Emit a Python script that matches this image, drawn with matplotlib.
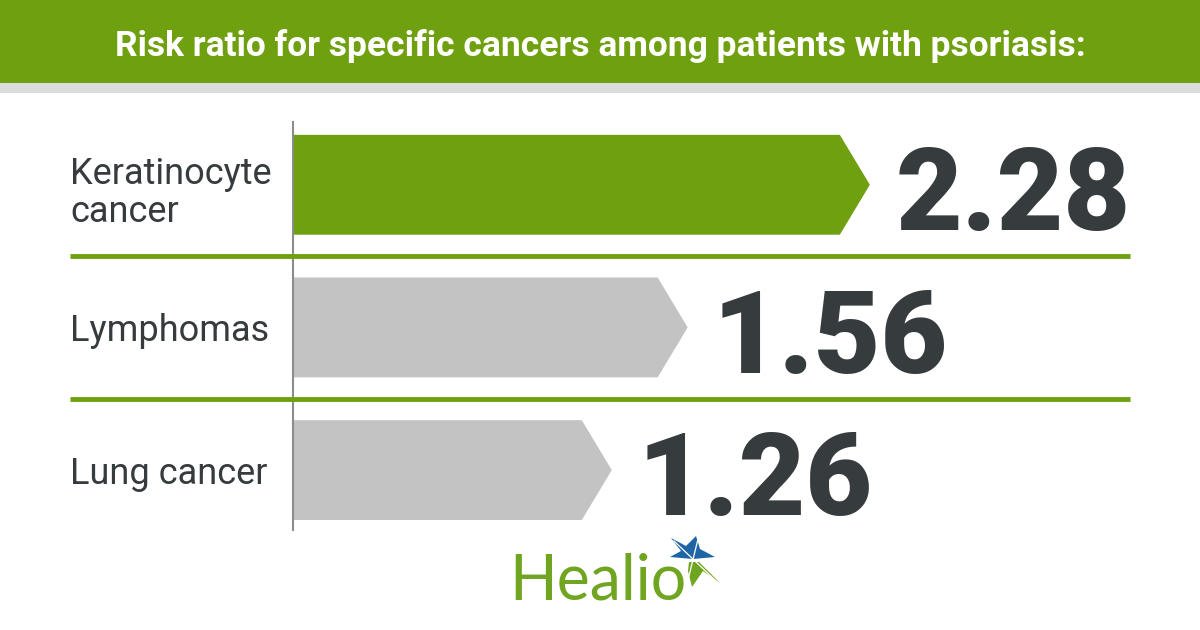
import numpy as np
import matplotlib.pyplot as plt
from matplotlib.patches import Polygon, Rectangle
from matplotlib.transforms import blended_transform_factory

categories = ['Keratinocyte\ncancer', 'Lymphomas', 'Lung cancer']
values = [2.28, 1.56, 1.26]
value_labels = ['2.28', '1.56', '1.26']
bar_colors = ['#6fa00f', '#c3c3c3', '#c3c3c3']

GREEN = '#6fa00f'
DARK = '#363b3e'
W, H = 1200, 630

fig = plt.figure(figsize=(12, 6.3), dpi=100)
fig.patch.set_facecolor('white')

# header band
fig.patches.append(Rectangle((0, (H - 83) / H), 1, 83 / H, transform=fig.transFigure,
                             facecolor=GREEN, edgecolor='none', zorder=0))
fig.patches.append(Rectangle((0, (H - 93) / H), 1, 10 / H, transform=fig.transFigure,
                             facecolor='#dcdcdc', edgecolor='none', zorder=0))
fig.text(0.5, (H - 46) / H, 'Risk ratio for specific cancers among patients with psoriasis:',
         ha='center', va='center', color='white', fontsize=25.5, fontweight='bold',
         family=['Roboto', 'DejaVu Sans'])

# main axes: left edge = value axis line
px_per_unit = 253.0
row_px = 142.0
ax_left, ax_bottom, ax_top = 293, 530, 122
ax = fig.add_axes([ax_left / W, (H - ax_bottom) / H, (W - ax_left) / W, (ax_bottom - ax_top) / H])
ax.set_xlim(0, (W - ax_left) / px_per_unit)
ax.set_ylim(2.42, -0.44)
ax.axis('off')
ax.plot([0, 0], [-0.44, 2.42], color='#8c8c8c', lw=1.5, clip_on=False)

bar_h = 0.70
tip = 30 / px_per_unit
for i, (v, c) in enumerate(zip(values, bar_colors)):
    y0, y1 = i - bar_h / 2, i + bar_h / 2
    poly = Polygon([(0, y0), (v - tip, y0), (v, i), (v - tip, y1), (0, y1)],
                   closed=True, facecolor=c, edgecolor='none')
    ax.add_patch(poly)
    ax.text(v + 0.1, i + 45 / row_px, value_labels[i], ha='left', va='baseline', color=DARK,
            fontsize=83, fontweight='black', family=['Roboto', 'DejaVu Sans'])

# separators
x_l = (70 - ax_left) / px_per_unit
x_r = (1130 - ax_left) / px_per_unit
for ys in [0.5, 1.5]:
    ax.plot([x_l, x_r], [ys, ys], color=GREEN, lw=3.5, clip_on=False, solid_capstyle='butt')

# category labels (last baseline placed relative to row centre)
trans = blended_transform_factory(fig.transFigure, ax.transData)
for i, cat in enumerate(categories):
    off = 37 if '\n' in cat else 13.5
    fig.text(70 / W, i + off / row_px, cat, transform=trans, ha='left', va='baseline', color=DARK,
             fontsize=26, linespacing=1.08, family=['Roboto', 'DejaVu Sans'])

# logo
fig.text(509 / W, (H - 600) / H, 'Healio', ha='left', va='baseline', color='#6fa520',
         fontsize=45, family=['Lato', 'DejaVu Sans'])
lax = fig.add_axes([0, 0, 1, 1], zorder=5)
lax.set_xlim(0, W)
lax.set_ylim(H, 0)
lax.axis('off')
lax.add_patch(Polygon([(670, 557), (681, 551), (671, 538), (686, 546), (696, 536),
                       (700, 549), (715, 557), (693, 559)],
                      facecolor='#1f65a6', edgecolor='none'))
lax.add_patch(Polygon([(689, 562), (699, 562), (720, 583), (703, 571), (692, 587), (688, 571)],
                      facecolor='#6fa520', edgecolor='none'))
lax.plot([674, 717], [541, 582], color='white', lw=0.9)
lax.plot([698, 688], [539, 580], color='white', lw=0.9)

fig.savefig('out.png', dpi=100)
